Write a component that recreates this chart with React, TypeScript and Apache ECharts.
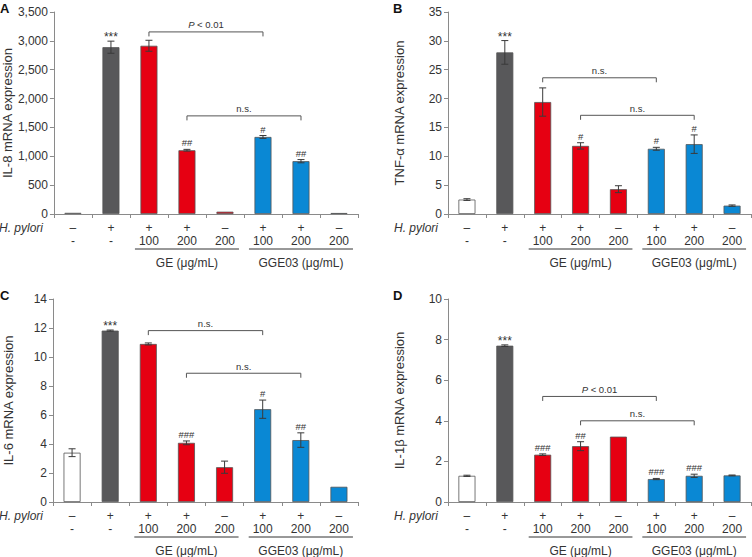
import React, { useEffect, useRef } from "react";
import * as echarts from "echarts";

const hPyloriRow = ["–", "+", "+", "+", "–", "+", "+", "–"];
const doseRow = ["-", "-", "100", "200", "200", "100", "200", "200"];
const barColors = ["#ffffff", "#58585a", "#e60012", "#e60012", "#e60012", "#0a88d4", "#0a88d4", "#0a88d4"];
const groups: [number, number, string][] = [
  [2, 4, "GE (μg/mL)"],
  [5, 7, "GGE03 (μg/mL)"],
];

// Panel A: IL-8
const il8Values = [20, 2890, 2915, 1105, 40, 1335, 915, 17];
const il8Errors = [0, 105, 95, 15, 0, 25, 28, 0];
const il8Marks = ["", "***", "", "##", "", "#", "##", ""];
const il8Brackets: [number, number, number, string][] = [
  [2, 5, 3155, "P < 0.01"],
  [3, 6, 1700, "n.s."],
];

// Panel B: TNF-α
const tnfValues = [2.5, 28, 19.4, 11.8, 4.3, 11.3, 12.1, 1.45];
const tnfErrors = [0.15, 2.05, 2.45, 0.55, 0.6, 0.25, 1.6, 0.12];
const tnfMarks = ["", "***", "", "#", "", "#", "#", ""];
const tnfBrackets: [number, number, number, string][] = [
  [2, 5, 23.6, "n.s."],
  [3, 6, 17.1, "n.s."],
];

// Panel C: IL-6
const il6Values = [3.4, 11.82, 10.9, 4.08, 2.4, 6.4, 4.27, 1.05];
const il6Errors = [0.27, 0.04, 0.07, 0.13, 0.42, 0.63, 0.5, 0];
const il6Marks = ["", "***", "", "###", "", "#", "##", ""];
const il6Brackets: [number, number, number, string][] = [
  [2, 5, 11.82, "n.s."],
  [3, 6, 8.88, "n.s."],
];

// Panel D: IL-1β
const il1bValues = [1.29, 7.7, 2.33, 2.75, 3.22, 1.13, 1.29, 1.31];
const il1bErrors = [0.03, 0.04, 0.04, 0.22, 0, 0.03, 0.08, 0.02];
const il1bMarks = ["", "***", "###", "##", "", "###", "###", ""];
const il1bBrackets: [number, number, number, string][] = [
  [2, 5, 5.2, "P < 0.01"],
  [3, 6, 4.0, "n.s."],
];

const FONT = "Arial, 'Liberation Sans', sans-serif";
const TXT = "#333333";
const AXIS = "#8a8a8a";

type Panel = {
  letter: string;
  name: string;
  values: number[];
  errors: number[];
  marks: string[];
  brackets: [number, number, number, string][];
  max: number;
  interval: number;
  grid: { left: number; top: number; width: number; height: number };
  nameGap: number;
  thousands?: boolean;
};

const panels: Panel[] = [
  { letter: "A", name: "IL-8 mRNA expression", values: il8Values, errors: il8Errors, marks: il8Marks, brackets: il8Brackets, max: 3500, interval: 500, grid: { left: 53, top: 12, width: 305, height: 202 }, nameGap: 38, thousands: true },
  { letter: "B", name: "TNF-α mRNA expression", values: tnfValues, errors: tnfErrors, marks: tnfMarks, brackets: tnfBrackets, max: 35, interval: 5, grid: { left: 448, top: 12, width: 303, height: 202 }, nameGap: 42 },
  { letter: "C", name: "IL-6 mRNA expression", values: il6Values, errors: il6Errors, marks: il6Marks, brackets: il6Brackets, max: 14, interval: 2, grid: { left: 53, top: 299, width: 305, height: 203 }, nameGap: 38 },
  { letter: "D", name: "IL-1β mRNA expression", values: il1bValues, errors: il1bErrors, marks: il1bMarks, brackets: il1bBrackets, max: 10, interval: 2, grid: { left: 448, top: 299, width: 303, height: 203 }, nameGap: 42 },
];

const categories = hPyloriRow.map((h, i) => `${h}\n${doseRow[i]}`);

export default function App() {
  const ref = useRef<HTMLDivElement>(null);
  useEffect(() => {
    if (!ref.current) return;
    const chart = echarts.init(ref.current, undefined, { renderer: "svg" });
    const grids: any[] = [];
    const xAxes: any[] = [];
    const yAxes: any[] = [];
    const series: any[] = [];
    const graphics: any[] = [];

    panels.forEach((p, k) => {
      grids.push({ ...p.grid, containLabel: false });
      xAxes.push({
        type: "category",
        gridIndex: k,
        data: categories,
        axisLine: { lineStyle: { color: AXIS, width: 1 } },
        axisTick: { show: true, length: 4, lineStyle: { color: AXIS } },
        axisLabel: { interval: 0, margin: 7, color: TXT, fontSize: 12, lineHeight: 13, fontFamily: FONT },
      });
      yAxes.push({
        type: "value",
        gridIndex: k,
        min: 0,
        max: p.max,
        interval: p.interval,
        name: p.name,
        nameLocation: "middle",
        nameGap: p.nameGap,
        nameTextStyle: { color: TXT, fontSize: 13, fontFamily: FONT },
        splitLine: { show: false },
        axisLine: { show: true, lineStyle: { color: AXIS, width: 1 } },
        axisTick: { show: true, length: 4, lineStyle: { color: AXIS } },
        axisLabel: {
          color: TXT,
          fontSize: 12,
          margin: 6,
          fontFamily: FONT,
          formatter: (v: number) => (p.thousands ? v.toLocaleString("en-US") : String(v)),
        },
      });

      series.push({
        type: "bar",
        xAxisIndex: k,
        yAxisIndex: k,
        barWidth: 17,
        data: p.values.map((v, i) => ({
          value: v,
          itemStyle: { color: barColors[i], borderColor: "#555555", borderWidth: 0.8 },
        })),
        z: 2,
      });

      // error bars + significance marks
      series.push({
        type: "custom",
        xAxisIndex: k,
        yAxisIndex: k,
        z: 5,
        encode: { x: 0, y: 1 },
        data: p.values.map((v, i) => [i, v, p.errors[i]]),
        renderItem: (params: any, api: any) => {
          const i = api.value(0);
          const v = api.value(1);
          const e = api.value(2);
          const top = api.coord([i, v + e]);
          const bot = api.coord([i, v - e]);
          const children: any[] = [];
          const ls = { stroke: "#3a3a3a", lineWidth: 1 };
          if (e > 0) {
            children.push({ type: "line", shape: { x1: top[0], y1: top[1], x2: bot[0], y2: bot[1] }, style: ls });
            children.push({ type: "line", shape: { x1: top[0] - 3.5, y1: top[1], x2: top[0] + 3.5, y2: top[1] }, style: ls });
            children.push({ type: "line", shape: { x1: bot[0] - 3.5, y1: bot[1], x2: bot[0] + 3.5, y2: bot[1] }, style: ls });
          }
          const m = p.marks[params.dataIndex];
          if (m) {
            const star = m[0] === "*";
            children.push({
              type: "text",
              style: {
                text: m,
                x: top[0],
                y: top[1] - (star ? -2 : 1.5),
                align: "center",
                verticalAlign: "bottom",
                fill: TXT,
                fontSize: star ? 12 : 9.5,
                fontFamily: FONT,
              },
            });
          }
          return { type: "group", children };
        },
      });

      // comparison brackets
      series.push({
        type: "custom",
        xAxisIndex: k,
        yAxisIndex: k,
        z: 5,
        encode: { x: 0, y: 2 },
        data: p.brackets.map((b) => [b[0], b[1], b[2]]),
        renderItem: (params: any, api: any) => {
          const s = api.value(0);
          const e = api.value(1);
          const y = api.value(2);
          const p1 = api.coord([s, y]);
          const p2 = api.coord([e, y]);
          const label = p.brackets[params.dataIndex][3];
          const isP = label.startsWith("P");
          return {
            type: "group",
            children: [
              {
                type: "polyline",
                shape: { points: [[p1[0], p1[1] + 4.5], [p1[0], p1[1]], [p2[0], p2[1]], [p2[0], p2[1] + 4.5]] },
                style: { stroke: "#555555", lineWidth: 1, fill: "none" },
              },
              {
                type: "text",
                style: {
                  text: isP ? "{i|P} < 0.01" : label,
                  x: (p1[0] + p2[0]) / 2,
                  y: p1[1] - 2,
                  align: "center",
                  verticalAlign: "bottom",
                  fill: TXT,
                  fontSize: 9.5,
                  fontFamily: FONT,
                  rich: { i: { fontStyle: "italic", fontSize: 9.5, fontFamily: FONT, fill: TXT } },
                },
              },
            ],
          };
        },
      });

      // group underline + labels
      series.push({
        type: "custom",
        xAxisIndex: k,
        yAxisIndex: k,
        z: 5,
        encode: { x: 0, y: 2 },
        data: groups.map((g) => [g[0], g[1], 0]),
        renderItem: (params: any, api: any) => {
          const s = api.value(0);
          const e = api.value(1);
          const p1 = api.coord([s, 0]);
          const p2 = api.coord([e, 0]);
          const yl = p1[1] + 35;
          return {
            type: "group",
            children: [
              { type: "line", shape: { x1: p1[0] - 14, y1: yl, x2: p2[0] + 14, y2: yl }, style: { stroke: "#333333", lineWidth: 1 } },
              {
                type: "text",
                style: {
                  text: groups[params.dataIndex][2],
                  x: (p1[0] + p2[0]) / 2,
                  y: p1[1] + 49,
                  align: "center",
                  verticalAlign: "middle",
                  fill: TXT,
                  fontSize: 12,
                  fontFamily: FONT,
                },
              },
            ],
          };
        },
      });

      graphics.push({
        type: "text",
        left: p.grid.left > 300 ? 393 : 0,
        top: p.grid.top - 10,
        style: { text: p.letter, fontSize: 13, fontWeight: "bold", fill: "#111", fontFamily: FONT },
      });
      graphics.push({
        type: "text",
        x: p.grid.left - 10,
        y: p.grid.top + p.grid.height + 14,
        style: { text: "H. pylori", fontSize: 12, fontStyle: "italic", fill: TXT, fontFamily: FONT, align: "right", verticalAlign: "middle" },
      });
    });

    chart.setOption({
      animation: false,
      backgroundColor: "#ffffff",
      grid: grids,
      xAxis: xAxes,
      yAxis: yAxes,
      series,
      graphic: graphics,
    });
    return () => chart.dispose();
  }, []);
  return <div ref={ref} style={{ position: "absolute", left: 0, top: 0, width: 752, height: 557 }} />;
}
